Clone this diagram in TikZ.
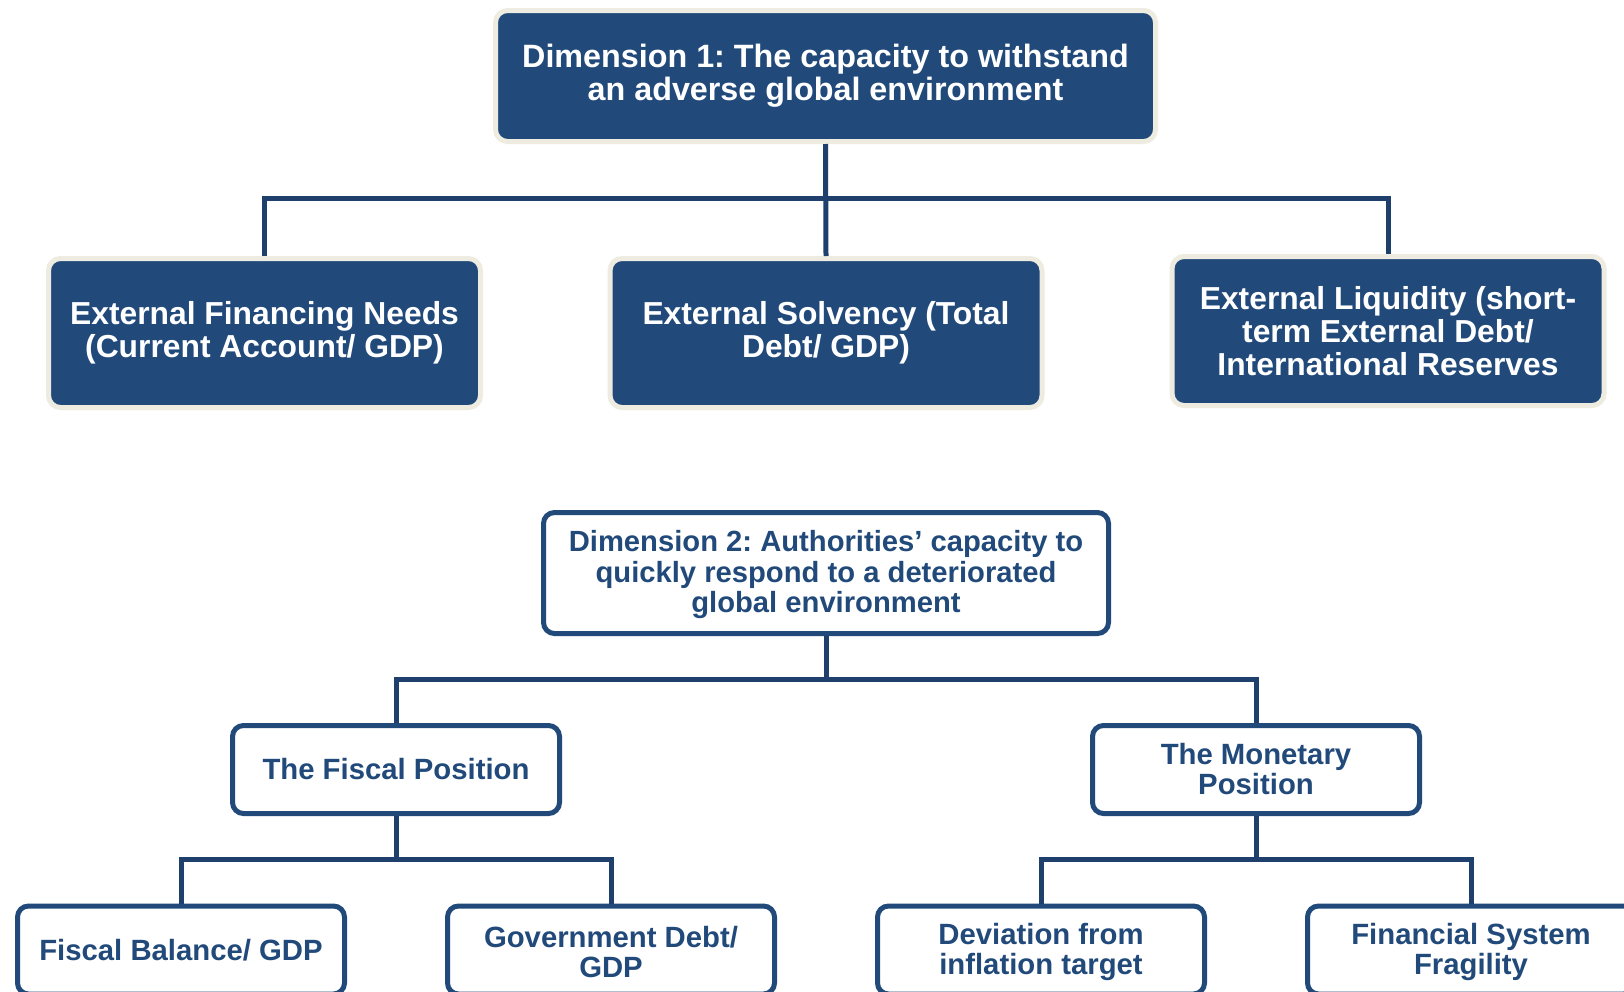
\documentclass[tikz,border=0pt]{standalone}
\usepackage{fontspec}
\setmainfont{Liberation Sans}
\frenchspacing
\definecolor{navy}{HTML}{214A7B}
\definecolor{linenavy}{HTML}{1F3F6C}
\definecolor{beige}{HTML}{EEEBE0}
% lower a box's contents without changing its reported size
\newcommand{\dropby}[2]{\raisebox{-#1}[\height][\depth]{#2}}
\tikzset{
  solidbox/.style={draw=beige, line width=5pt, fill=navy, rounded corners=12pt,
    text=white, align=center, inner sep=0pt},
  outlinebox/.style={draw=navy, line width=5pt, fill=white, rounded corners=11pt,
    text=navy, align=center, inner sep=0pt},
  link/.style={draw=linenavy, line width=5pt},
  bigtext/.style={font=\bfseries\fontsize{32.3}{33}\selectfont},
  midtext/.style={font=\bfseries\fontsize{31.8}{33}\selectfont},
  smalltext/.style={font=\bfseries\fontsize{29.3}{30}\selectfont},
}
\begin{document}
\begin{tikzpicture}[x=1pt,y=-1pt]
\clip (0,0) rectangle (1624,991);
\fill[white] (0,0) rectangle (1624,991);

% Dimension 1 and its three indicators
\node[solidbox, bigtext, minimum width=660pt, minimum height=131pt] (dim1) at (825.5,76)
  {Dimension 1: The capacity to withstand\\an adverse global environment};
\node[solidbox, midtext, minimum width=432pt, minimum height=149pt] (efn) at (264.5,333)
  {External Financing Needs\\(Current Account/ GDP)};
\node[solidbox, midtext, minimum width=432pt, minimum height=149pt] (es) at (826,333)
  {External Solvency (Total\\Debt/ GDP)};
\node[solidbox, midtext, minimum width=432pt, minimum height=149pt] (el) at (1388,331)
  {External Liquidity (short-\\term External Debt/\\International Reserves};

\coordinate (j1) at (825.5,198);
\draw[link] (dim1.south) -- (es.north);
\draw[link] (efn.north) |- (j1) -| (el.north);

% Dimension 2 and its branches
\node[outlinebox, font=\bfseries\fontsize{29.2}{30.5}\selectfont,
  minimum width=565pt, minimum height=121pt] (dim2) at (826,573)
  {\dropby{2pt}{\parbox{560pt}{\centering Dimension 2: Authorities’ capacity to\\quickly respond to a deteriorated\\global environment}}};
\node[outlinebox, smalltext, minimum width=327pt, minimum height=88pt] (fis) at (396,769.5)
  {The Fiscal Position};
\node[outlinebox, smalltext, minimum width=327pt, minimum height=88pt] (mon) at (1256,769.5)
  {The Monetary\\Position};

\coordinate (j2) at (826,679);
\draw[link] (fis.north) |- (j2) -| (mon.north);
\draw[link] (dim2.south) -- (j2);

% Bottom indicators
\node[outlinebox, smalltext, minimum width=327pt, minimum height=88pt] (fb) at (181,950)
  {Fiscal Balance/ GDP};
\node[outlinebox, smalltext, minimum width=327pt, minimum height=88pt] (gd) at (611,950)
  {\dropby{2pt}{\parbox{320pt}{\centering Government Debt/\\GDP}}};
\node[outlinebox, smalltext, minimum width=327pt, minimum height=88pt] (dev) at (1041,950)
  {\dropby{2pt}{\parbox{320pt}{\centering Deviation from\\inflation target}}};
\node[outlinebox, smalltext, minimum width=327pt, minimum height=88pt] (fsf) at (1471,950)
  {\dropby{2pt}{\parbox{320pt}{\centering Financial System\\Fragility}}};

\coordinate (j3) at (396,859);
\coordinate (j4) at (1256,859);
\draw[link] (fis.south) -- (j3);
\draw[link] (fb.north) |- (j3) -| (gd.north);
\draw[link] (mon.south) -- (j4);
\draw[link] (dev.north) |- (j4) -| (fsf.north);
\end{tikzpicture}
\end{document}
